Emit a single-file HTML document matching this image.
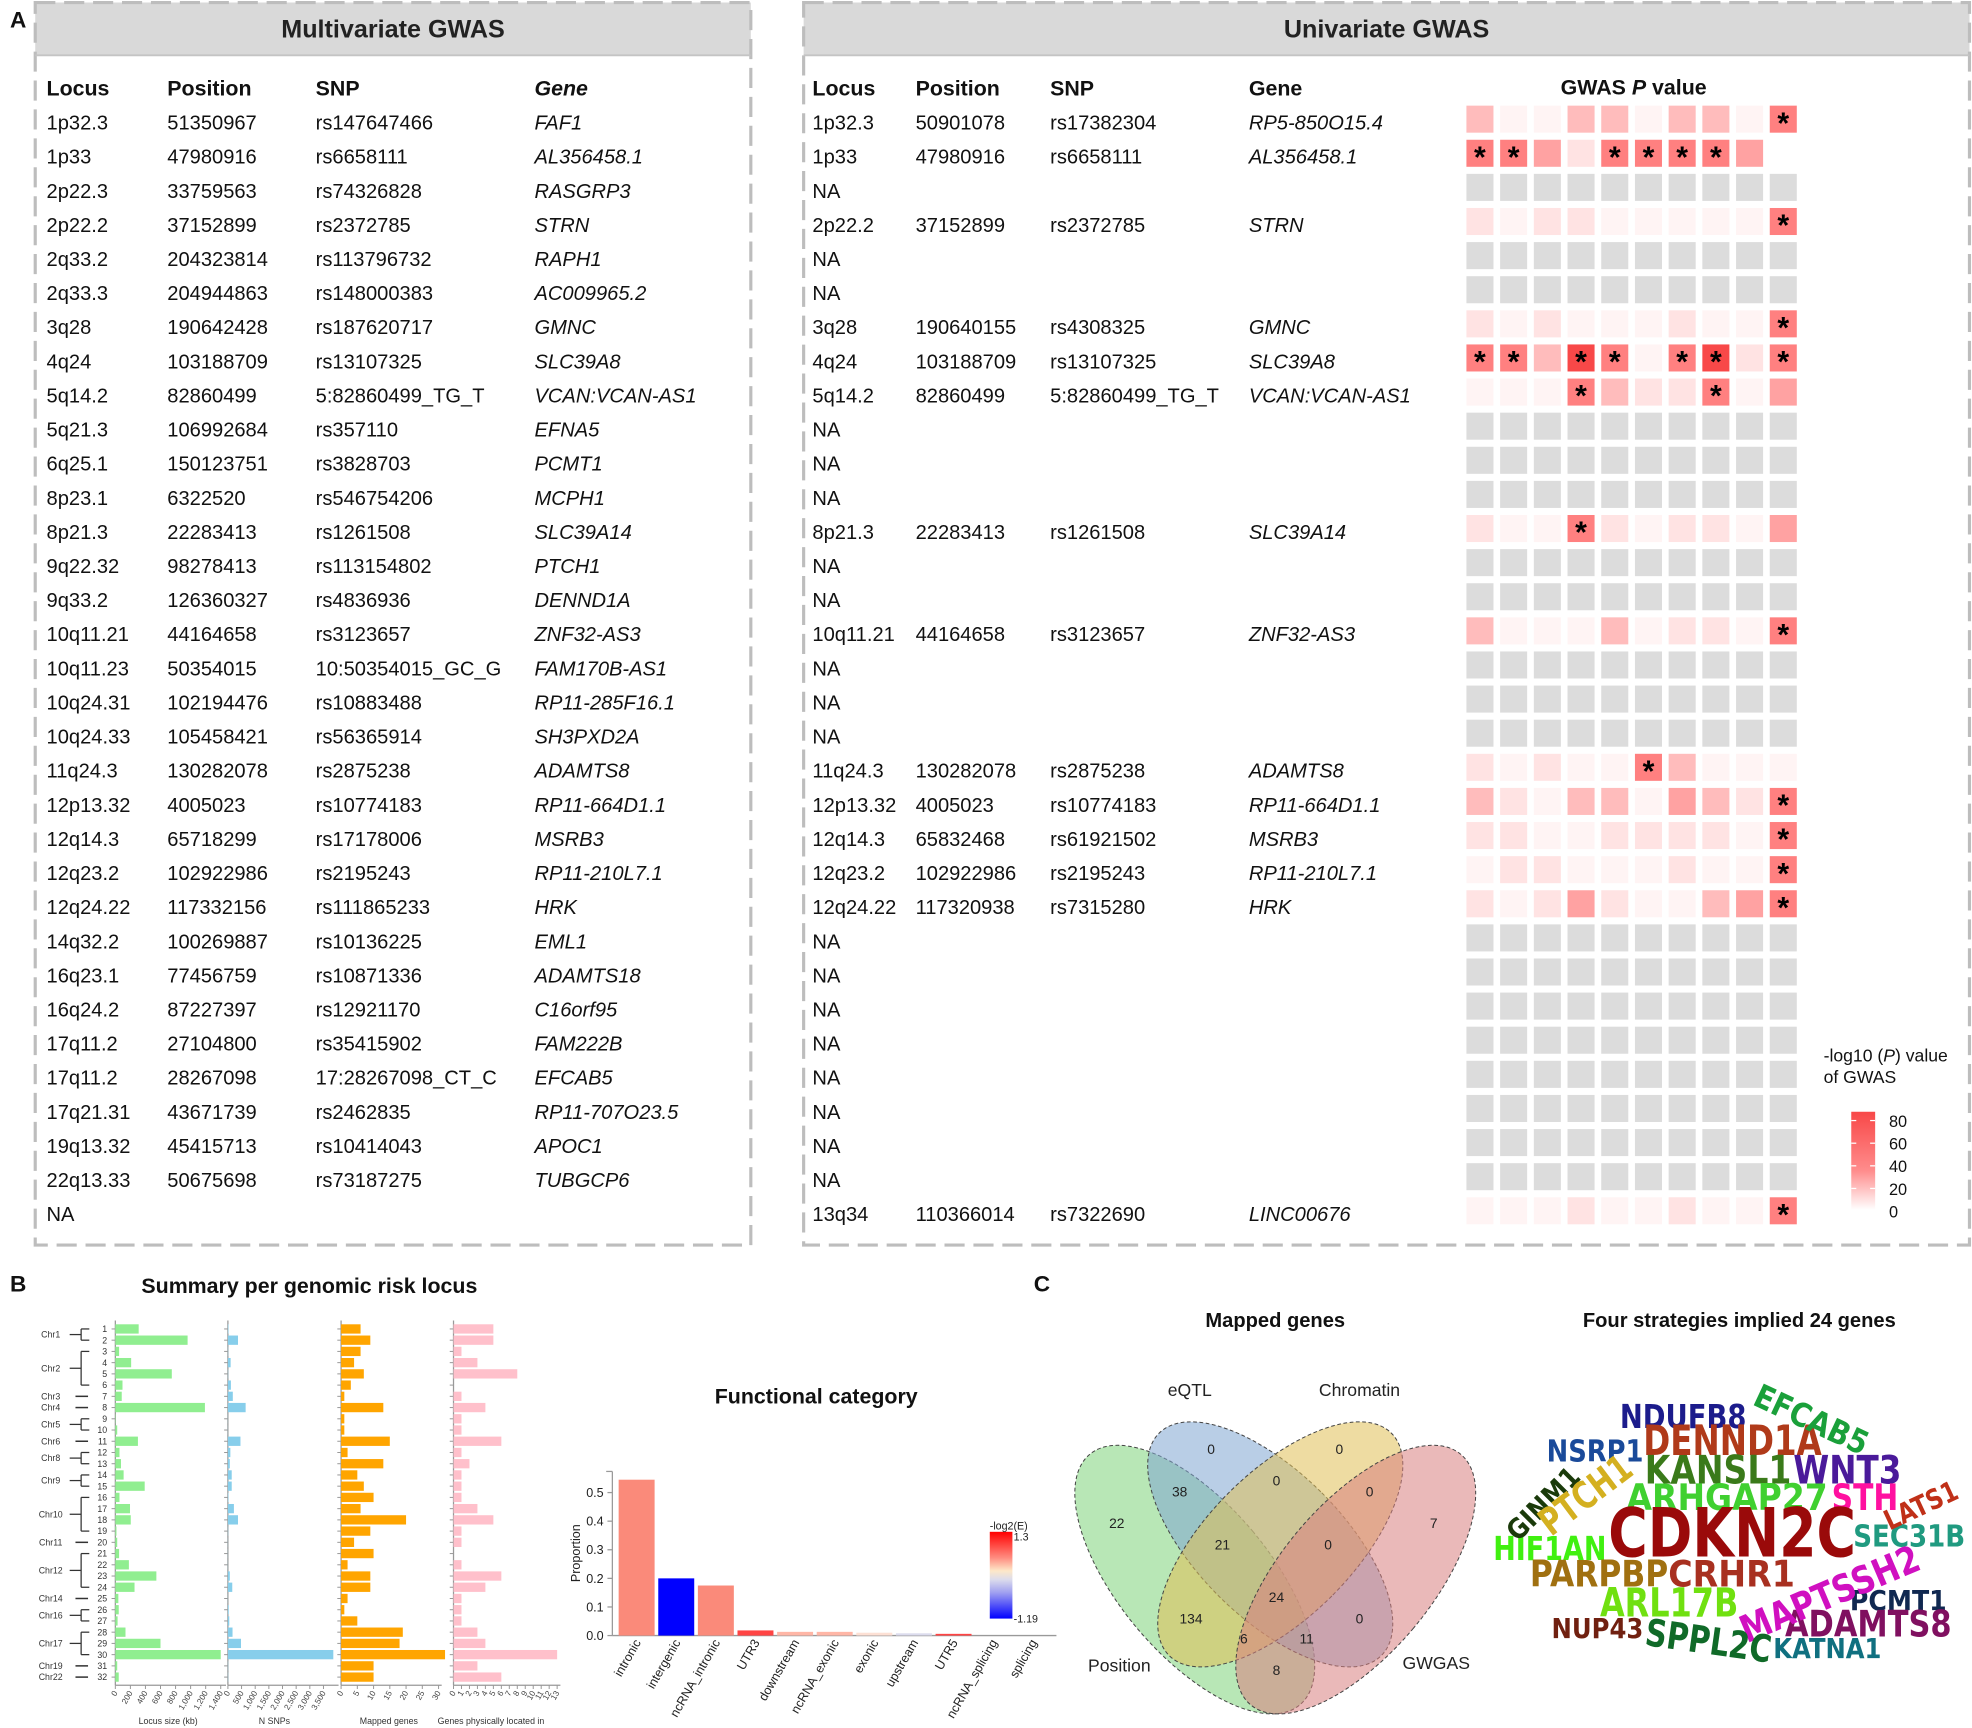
<!DOCTYPE html>
<html><head><meta charset="utf-8">
<style>
html,body{margin:0;padding:0;background:#fff;}
svg{display:block;}
text{font-family:"Liberation Sans",Arial,sans-serif;}
</style></head>
<body>
<svg id="s" xmlns="http://www.w3.org/2000/svg" width="1972" height="1728" viewBox="0 0 1568 1374">
<rect x="0" y="0" width="1568" height="1374" fill="#fff"/>
<g id="g"></g>
</svg>
<script>
const g=document.getElementById('g');let h='';
function T(x,y,t,o){o=o||{};h+=`<text x="${x}" y="${y}" font-size="${o.fs||16}" ${o.b?'font-weight="bold"':''} ${o.i?'font-style="italic"':''} ${o.a?`text-anchor="${o.a}"`:''} fill="${o.c||'#111'}" ${o.tr?`transform="${o.tr}"`:''} ${o.ff?`style="font-family:${o.ff}"`:''} ${o.tl?`textLength="${o.tl}" lengthAdjust="spacingAndGlyphs"`:''}>${t}</text>`;}
function R(x,y,w,hh,f,extra){h+=`<rect x="${x}" y="${y}" width="${w}" height="${hh}" fill="${f}" ${extra||''}/>`;}
function L(x1,y1,x2,y2,c,w,extra){h+=`<line x1="${x1}" y1="${y1}" x2="${x2}" y2="${y2}" stroke="${c}" stroke-width="${w||1}" ${extra||''}/>`;}

T(8,22,'A',{fs:18,b:1});
function box(x1,x2,title){
  R(x1,2,x2-x1,42,'#d9d9d9');
  h+=`<rect x="${x1}" y="2" width="${x2-x1}" height="988" fill="none" stroke="#bdbdbd" stroke-width="2.5" stroke-dasharray="16 7"/>`;
  L(x1,44,x2,44,'#c4c4c4',1.5);
  T((x1+x2)/2,30,title,{fs:20,b:1,a:'middle',c:'#222'});
}
box(28,597,'Multivariate GWAS');box(639,1566,'Univariate GWAS');
const left=[
['1p32.3','51350967','rs147647466','FAF1'],['1p33','47980916','rs6658111','AL356458.1'],['2p22.3','33759563','rs74326828','RASGRP3'],['2p22.2','37152899','rs2372785','STRN'],['2q33.2','204323814','rs113796732','RAPH1'],['2q33.3','204944863','rs148000383','AC009965.2'],['3q28','190642428','rs187620717','GMNC'],['4q24','103188709','rs13107325','SLC39A8'],['5q14.2','82860499','5:82860499_TG_T','VCAN:VCAN-AS1'],['5q21.3','106992684','rs357110','EFNA5'],['6q25.1','150123751','rs3828703','PCMT1'],['8p23.1','6322520','rs546754206','MCPH1'],['8p21.3','22283413','rs1261508','SLC39A14'],['9q22.32','98278413','rs113154802','PTCH1'],['9q33.2','126360327','rs4836936','DENND1A'],['10q11.21','44164658','rs3123657','ZNF32-AS3'],['10q11.23','50354015','10:50354015_GC_G','FAM170B-AS1'],['10q24.31','102194476','rs10883488','RP11-285F16.1'],['10q24.33','105458421','rs56365914','SH3PXD2A'],['11q24.3','130282078','rs2875238','ADAMTS8'],['12p13.32','4005023','rs10774183','RP11-664D1.1'],['12q14.3','65718299','rs17178006','MSRB3'],['12q23.2','102922986','rs2195243','RP11-210L7.1'],['12q24.22','117332156','rs111865233','HRK'],['14q32.2','100269887','rs10136225','EML1'],['16q23.1','77456759','rs10871336','ADAMTS18'],['16q24.2','87227397','rs12921170','C16orf95'],['17q11.2','27104800','rs35415902','FAM222B'],['17q11.2','28267098','17:28267098_CT_C','EFCAB5'],['17q21.31','43671739','rs2462835','RP11-707O23.5'],['19q13.32','45415713','rs10414043','APOC1'],['22q13.33','50675698','rs73187275','TUBGCP6'],['NA','','','']];
const right=[
['1p32.3','50901078','rs17382304','RP5-850O15.4'],['1p33','47980916','rs6658111','AL356458.1'],['NA'],['2p22.2','37152899','rs2372785','STRN'],['NA'],['NA'],['3q28','190640155','rs4308325','GMNC'],['4q24','103188709','rs13107325','SLC39A8'],['5q14.2','82860499','5:82860499_TG_T','VCAN:VCAN-AS1'],['NA'],['NA'],['NA'],['8p21.3','22283413','rs1261508','SLC39A14'],['NA'],['NA'],['10q11.21','44164658','rs3123657','ZNF32-AS3'],['NA'],['NA'],['NA'],['11q24.3','130282078','rs2875238','ADAMTS8'],['12p13.32','4005023','rs10774183','RP11-664D1.1'],['12q14.3','65832468','rs61921502','MSRB3'],['12q23.2','102922986','rs2195243','RP11-210L7.1'],['12q24.22','117320938','rs7315280','HRK'],['NA'],['NA'],['NA'],['NA'],['NA'],['NA'],['NA'],['NA'],['13q34','110366014','rs7322690','LINC00676']];
const RH=27.125;
[[37,'Locus'],[133,'Position'],[251,'SNP']].forEach(a=>T(a[0],76,a[1],{fs:17,b:1}));
T(425,76,'Gene',{fs:17,b:1,i:1});
[[646,'Locus'],[728,'Position'],[835,'SNP'],[993,'Gene']].forEach(a=>T(a[0],76,a[1],{fs:17,b:1}));
T(1299,75,'GWAS <tspan font-style="italic">P</tspan> value',{fs:17,b:1,a:'middle'});
left.forEach((r,i)=>{const y=103+RH*i;T(37,y,r[0]);if(r[1]){T(133,y,r[1]);T(251,y,r[2]);T(425,y,r[3],{i:1});}});
right.forEach((r,i)=>{const y=103+RH*i;T(646,y,r[0]);if(r[1]){T(728,y,r[1]);T(835,y,r[2]);T(993,y,r[3],{i:1});}});
const hm=['2002202204*','4*4*314*4*4*4*3w','G','1011000004*','G','G','1010001004*','4*4*25*4*04*5*14*','0004*2114*03','G','G','G','1004*101103','G','G','2000201104*','G','G','G','101004*2000','2102203214*','1100111104*','0110001004*','1013100234*','G','G','G','G','G','G','G','G','0001001004*'];
const col=['#fff4f4','#ffe3e3','#ffbcbc','#ffa2a2','#ff8080','#f84848'];
hm.forEach((s,i)=>{const y=84+RH*i;let cells=[];
  if(s==='G'){for(let j=0;j<10;j++)cells.push(['G',0]);}
  else{for(let k=0;k<s.length;k++){const c=s[k];if(c==='*'){cells[cells.length-1][1]=1;}else cells.push([c,0]);}}
  cells.forEach((c,j)=>{const x=1166+26.8*j;let f=c[0]==='G'?'#dcdcdc':c[0]==='w'?'#ffffff':col[+c[0]];
    R(x,y,21.5,21.5,f);if(c[1])T(x+10.75,y+22,'*',{fs:24,b:1,a:'middle',c:'#000'});});
});
T(1450,844,'-log10 (<tspan font-style="italic">P</tspan>) value',{fs:14});T(1450,861,'of GWAS',{fs:14});
h+=`<defs><linearGradient id="lg" x1="0" y1="0" x2="0" y2="1"><stop offset="0" stop-color="#f84848"/><stop offset="0.6" stop-color="#ff8c8c"/><stop offset="1" stop-color="#ffffff"/></linearGradient>
<linearGradient id="lg2" x1="0" y1="0" x2="0" y2="1"><stop offset="0" stop-color="#ff0000"/><stop offset="0.3" stop-color="#ff8c80"/><stop offset="0.45" stop-color="#fde8c8"/><stop offset="0.55" stop-color="#dcdcec"/><stop offset="0.7" stop-color="#a0a0f0"/><stop offset="1" stop-color="#0000ff"/></linearGradient></defs>`;
R(1472,884,19,78,'url(#lg)');
[[80,891],[60,909],[40,927],[20,945],[0,963]].forEach(a=>{T(1502,a[1]+5,a[0],{fs:13});L(1472,a[1],1476,a[1],'#fff',1);L(1487,a[1],1491,a[1],'#fff',1);});

// Panel B
T(8,1027,'B',{fs:18,b:1});
T(246,1028,'Summary per genomic risk locus',{fs:17,b:1,a:'middle'});
const ls=[310,960,50,210,750,95,85,1190,5,25,300,55,75,110,390,55,195,205,15,25,50,180,545,255,40,45,30,135,600,1400,25,45];
const sn=[20,370,10,100,10,110,180,650,5,5,460,90,70,140,140,20,220,370,10,5,5,5,70,160,5,30,50,170,480,3860,10,10];
const mg=[6,9,6,4,7,3,1,13,1,1,15,2,13,5,7,10,6,20,9,4,10,2,9,9,2,1,5,19,18,32,10,10];
const gp=[5,5,1,3,8,0,1,4,1,1,6,1,2,1,1,1,3,5,1,1,0,1,6,4,1,1,1,3,4,13,3,6];
const ch=[['Chr1',1,2],['Chr2',3,6],['Chr3',7,7],['Chr4',8,8],['Chr5',9,10],['Chr6',11,11],['Chr8',12,13],['Chr9',14,15],['Chr10',16,19],['Chr11',20,20],['Chr12',21,24],['Chr14',25,25],['Chr16',26,27],['Chr17',28,30],['Chr19',31,31],['Chr22',32,32]];
const ry=i=>1056.7+8.93*(i-1);
const charts=[[91.7,83.8/1400,ls,'#90ee90',[0,200,400,600,800,'1,000','1,200','1,400'],200,'Locus size (kb)'],
[181.2,76/3500,sn,'#87ceeb',[0,500,'1,000','1,500','2,000','2,500','3,000','3,500'],500,'N SNPs'],
[271.2,77.5/30,mg,'#ffa500',[0,5,10,15,20,25,30],5,'Mapped genes'],
[360.6,82.4/13,gp,'#ffc0cb',[0,1,2,3,4,5,6,7,8,9,10,11,12,13],1,'Genes physically located in']];
charts.forEach((c,k)=>{const x0=c[0],sc=c[1];
  L(x0,1050,x0,1340,'#999',1);L(x0,1340,x0+(k==3?85:c[4].length>7?88:80),1340,'#999',1);
  for(let i=1;i<=32;i++){const y=ry(i);L(x0-3,y,x0,y,'#999',0.8);if(c[2][i-1]>0)R(x0,y-3.7,c[2][i-1]*sc,7.4,c[3]);}
  c[4].forEach((t,j)=>{const x=x0+j*c[5]*sc;L(x,1340,x,1343,'#999',0.8);T(x+2,1346,t,{fs:6.5,a:'end',c:'#444',tr:`rotate(-60 ${x+2} 1346)`});});
  T(k==3?348:x0+(k==0?42:k==1?37:38),1371,c[6],{fs:7,a:k==3?'start':'middle',c:'#333'});
});
for(let i=1;i<=32;i++)T(85.2,ry(i)+2.5,i,{fs:7,a:'end',c:'#333'});
ch.forEach(c=>{const y1=ry(c[1]),y2=ry(c[2]),ym=(y1+y2)/2;T(40.3,ym+2.5,c[0],{fs:7,a:'middle',c:'#333'});
  if(c[1]===c[2]){L(60,ym,70,ym,'#333',1.2);}else{L(55.4,ym,64.5,ym,'#333',1);L(64.5,y1,64.5,y2,'#333',1);L(64.5,y1,71,y1,'#333',1);L(64.5,y2,71,y2,'#333',1);}});

// Functional category
T(649,1116,'Functional category',{fs:17,b:1,a:'middle'});
L(486.9,1170,486.9,1300.5,'#999',1);L(486.9,1300.5,840,1300.5,'#999',1);L(482,1170,486.9,1170,'#999',1);
for(let v=0;v<=5;v++){const y=1300.5-v*22.74;L(483,y,486.9,y,'#999',1);T(480,y+3.5,(v/10).toFixed(1),{fs:10,a:'end',c:'#222'});}
T(461,1235,'Proportion',{fs:10,a:'middle',c:'#222',tr:'rotate(-90 461 1235)'});
const fc=[['intronic',0.545,'#fa8a7a'],['intergenic',0.2,'#0000ff'],['ncRNA_intronic',0.175,'#fa8a7a'],['UTR3',0.018,'#ff4444'],['downstream',0.013,'#ffb6a6'],['ncRNA_exonic',0.013,'#ffb6a6'],['exonic',0.01,'#fde0d4'],['upstream',0.008,'#dcdcee'],['UTR5',0.006,'#ff4444'],['ncRNA_splicing',0,'#fff'],['splicing',0,'#fff']];
fc.forEach((f,i)=>{const x=491.9+31.5*i;const hh=f[1]*227.4;if(hh>0)R(x,1300.5-hh,28.6,hh,f[2]);
  const cx=x+18;T(cx,1306,f[0],{fs:10,a:'end',c:'#222',tr:`rotate(-60 ${cx} 1306)`});});
R(787,1218,18,69,'url(#lg2)');
T(787,1216,'-log2(E)',{fs:8.5,c:'#222'});T(806,1225,'1.3',{fs:8.5,c:'#222'});T(806,1290,'-1.19',{fs:8.5,c:'#222'});

// Panel C
T(822,1027,'C',{fs:18,b:1});
T(1014,1055,'Mapped genes',{fs:16,b:1,a:'middle'});
const el=[[950,1256,-40,'#7ed37a',60,130],[1010,1228,-45,'#7fa6d2',58,125],[1018,1228,45,'#e0bf55',58,125],[1078,1256,40,'#d98080',60,130]];
el.forEach(e=>{h+=`<ellipse cx="${e[0]}" cy="${e[1]}" rx="${e[4]}" ry="${e[5]}" transform="rotate(${e[2]} ${e[0]} ${e[1]})" fill="${e[3]}" fill-opacity="0.55" stroke="#444" stroke-width="0.8" stroke-dasharray="3 2"/>`;});
[['eQTL',946,1110],['Chromatin',1081,1110],['Position',890,1329],['GWGAS',1142,1327]].forEach(a=>T(a[1],a[2],a[0],{fs:14,a:'middle',c:'#222'}));
[['0',963,1152],['0',1065,1152],['38',938,1186],['0',1015,1177],['0',1089,1186],['22',888,1211],['7',1140,1211],['21',972,1228],['0',1056,1228],['24',1015,1270],['134',947,1287],['0',1081,1287],['6',989,1303],['11',1039,1303],['8',1015,1328]].forEach(a=>T(a[1],a[2]+4,a[0],{fs:11,a:'middle',c:'#222'}));

T(1383,1055,'Four strategies implied 24 genes',{fs:16,b:1,a:'middle'});
const WF='\'DejaVu Sans\',sans-serif';
function W(t,x,y,fs,c,tl,rot){const o={fs:fs,b:1,c:c,ff:WF,tl:tl};if(rot!==undefined){o.a='middle';o.tr=`rotate(${rot} ${x} ${y})`;}T(x,y,t,o);}
W('NDUFB8',1288,1135.6,26,'#1c1c8c',100.7);
W('DENND1A',1306.6,1157,33,'#b03a1a',142);
W('NSRP1',1229.8,1162,24,'#1a4a9a',77);
W('KANSL1',1307.8,1179.4,31,'#3a7a1a',116.6);
W('WNT3',1425.9,1179.4,31,'#4a1a9a',86);
W('ARHGAP27',1293.3,1200.6,29,'#40d030',160);
W('STH',1456.4,1200.6,29,'#ff10a0',53);
W('CDKN2C',1278.8,1237.7,54,'#9a0a0a',197);
W('SEC31B',1473.6,1229.8,24,'#209a80',89);
W('HIF1AN',1187.3,1240.4,26,'#40f010',90);
W('PARPBP',1216.5,1261.6,29,'#a07010',110);
W('CRHR1',1326.5,1261.6,29,'#a83020',100.7);
W('PCMT1',1470.9,1280.1,22,'#102850',77);
W('ARL17B',1272.2,1285.4,32,'#70e010',110);
W('ADAMTS8',1419.3,1301.3,29,'#801060',132.5);
W('NUP43',1233.7,1302.6,22,'#702010',73);
W('KATNA1',1410,1318.5,22,'#107080',86);
W('EFCAB5',1436.5,1137,26,'#1aa03a',97,25);
W('GINM1',1232.4,1201,22,'#1a3a0a',72,-45);
W('PTCH1',1266.8,1197,30,'#d4b020',84,-37);
W('LATS1',1530.6,1204,22,'#c03018',62,-25);
W('MAPTSSH2',1459,1277,30,'#d010c0',152,-23);
W('SPPL2C',1357,1315,30,'#106a28',100.7,8);
g.innerHTML=h;
</script>
</body></html>
